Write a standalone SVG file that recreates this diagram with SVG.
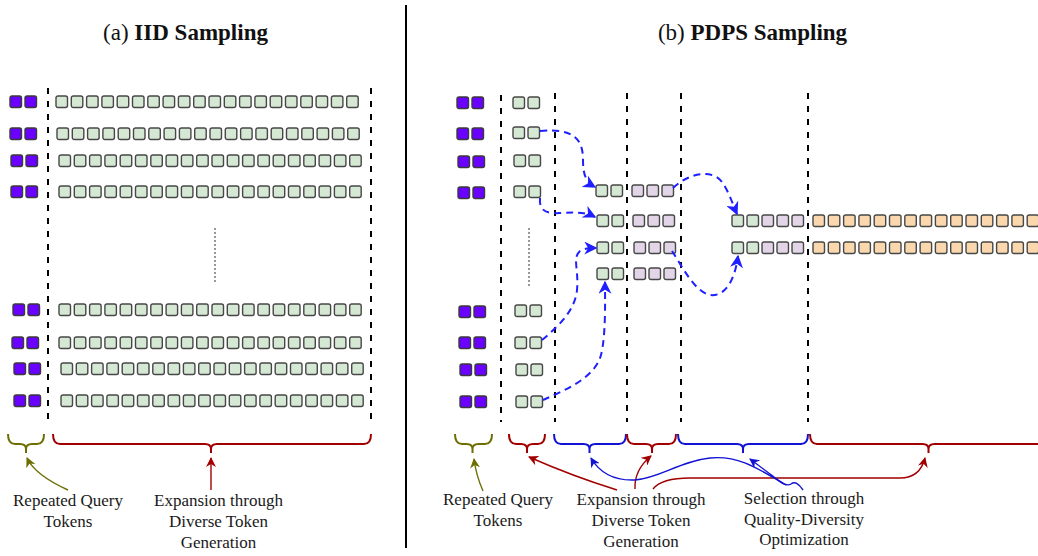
<svg xmlns="http://www.w3.org/2000/svg" xmlns:xlink="http://www.w3.org/1999/xlink" width="1038" height="556" viewBox="0 0 1038 556">
<style>
.tg{fill:#d5e8d4;stroke:#474747;stroke-width:1.4}
.tp{fill:#6a00ff;stroke:#3a3a3a;stroke-width:1.4}
.tl{fill:#e1d5e7;stroke:#474747;stroke-width:1.4}
.to{fill:#fad7ac;stroke:#474747;stroke-width:1.4}
.dash{stroke:#000;stroke-width:2;stroke-dasharray:6 7;fill:none}
.dot{stroke:#333;stroke-width:1;stroke-dasharray:2 2;fill:none}
.sep{stroke:#000;stroke-width:2;fill:none}
.title{font-family:"Liberation Serif",serif;font-size:23px;fill:#111;text-anchor:middle}
.lbl{font-family:"Liberation Serif",serif;font-size:17px;fill:#1a1a1a;text-anchor:middle}
.bo{stroke:#6d6d00;stroke-width:2;fill:none}
.br{stroke:#a20000;stroke-width:2;fill:none}
.bb{stroke:#1212d4;stroke-width:2;fill:none}
.flow{stroke:#1f1fff;stroke-width:2;stroke-dasharray:7 5;fill:none;marker-end:url(#mb)}
.ao{stroke:#6d6d00;stroke-width:1.4;fill:none;marker-end:url(#mo)}
.ar{stroke:#a20000;stroke-width:1.4;fill:none;marker-end:url(#mr)}
.ab{stroke:#1212d4;stroke-width:1.4;fill:none}
</style>
<defs>
<marker id="mb" viewBox="0 0 10 10" refX="9" refY="5" markerWidth="13" markerHeight="13" markerUnits="userSpaceOnUse" orient="auto"><path d="M0,0 L10,5 L0,10 L3,5 z" fill="#1f1fff"/></marker>
<marker id="mo" viewBox="0 0 10 10" refX="9" refY="5" markerWidth="10" markerHeight="10" markerUnits="userSpaceOnUse" orient="auto"><path d="M0,0 L10,5 L0,10 L3,5 z" fill="#6d6d00"/></marker>
<marker id="mr" viewBox="0 0 10 10" refX="9" refY="5" markerWidth="10" markerHeight="10" markerUnits="userSpaceOnUse" orient="auto"><path d="M0,0 L10,5 L0,10 L3,5 z" fill="#a20000"/></marker>
<marker id="mbl" viewBox="0 0 10 10" refX="9" refY="5" markerWidth="10" markerHeight="10" markerUnits="userSpaceOnUse" orient="auto"><path d="M0,0 L10,5 L0,10 L3,5 z" fill="#1212d4"/></marker>
<rect id="tg" class="tg" width="11.5" height="11.5" rx="2"/>
<rect id="tp" class="tp" width="11.5" height="11.5" rx="2"/>
<rect id="tl" class="tl" width="11.5" height="11.5" rx="2"/>
<rect id="to" class="to" width="11.5" height="11.5" rx="2"/>
<g id="q2"><use href="#tp"/><use href="#tp" x="15"/></g>
<g id="g2"><use href="#tg"/><use href="#tg" x="15"/></g>
<g id="l3"><use href="#tl"/><use href="#tl" x="15"/><use href="#tl" x="30"/></g>
<g id="row20">
<use href="#tg" x="0"/><use href="#tg" x="15.3"/><use href="#tg" x="30.6"/><use href="#tg" x="45.9"/><use href="#tg" x="61.2"/><use href="#tg" x="76.5"/><use href="#tg" x="91.8"/><use href="#tg" x="107.1"/><use href="#tg" x="122.4"/><use href="#tg" x="137.7"/><use href="#tg" x="153"/><use href="#tg" x="168.3"/><use href="#tg" x="183.6"/><use href="#tg" x="198.9"/><use href="#tg" x="214.2"/><use href="#tg" x="229.5"/><use href="#tg" x="244.8"/><use href="#tg" x="260.1"/><use href="#tg" x="275.4"/><use href="#tg" x="290.7"/>
</g>
<g id="orow">
<use href="#to" x="0"/><use href="#to" x="15.3"/><use href="#to" x="30.6"/><use href="#to" x="45.9"/><use href="#to" x="61.2"/><use href="#to" x="76.5"/><use href="#to" x="91.8"/><use href="#to" x="107.1"/><use href="#to" x="122.4"/><use href="#to" x="137.7"/><use href="#to" x="153"/><use href="#to" x="168.3"/><use href="#to" x="183.6"/><use href="#to" x="198.9"/><use href="#to" x="214.2"/>
</g>
</defs>
<rect width="1038" height="556" fill="#fff"/>

<g id="titles">
<text class="title" x="185.5" y="40">(a) <tspan font-weight="bold">IID Sampling</tspan></text>
<text class="title" x="752.5" y="40">(b) <tspan font-weight="bold">PDPS Sampling</tspan></text>
</g>

<g id="separators">
<line class="sep" x1="406" y1="5" x2="406" y2="548"/>
<line class="dash" x1="48" y1="88" x2="48" y2="420"/>
<line class="dash" x1="371" y1="88" x2="371" y2="420"/>
<line class="dot" x1="215" y1="228" x2="215" y2="284"/>
<line class="dash" x1="501" y1="95" x2="501" y2="422"/>
<line class="dash" x1="555" y1="93" x2="555" y2="422"/>
<line class="dash" x1="627" y1="93" x2="627" y2="422"/>
<line class="dash" x1="681" y1="93" x2="681" y2="422"/>
<line class="dash" x1="808" y1="93" x2="808" y2="422"/>
<line class="dot" x1="529" y1="228" x2="529" y2="286"/>
</g>

<g id="iid-row1"><use href="#q2" x="10" y="96"/><use href="#row20" x="56" y="96"/></g>
<g id="iid-row2"><use href="#q2" x="10" y="128"/><use href="#row20" x="57" y="128"/></g>
<g id="iid-row3"><use href="#q2" x="11" y="155"/><use href="#row20" x="59" y="155"/></g>
<g id="iid-row4"><use href="#q2" x="11" y="186"/><use href="#row20" x="59" y="186"/></g>
<g id="iid-row5"><use href="#q2" x="13" y="304"/><use href="#row20" x="59" y="304"/></g>
<g id="iid-row6"><use href="#q2" x="12" y="337"/><use href="#row20" x="59" y="337"/></g>
<g id="iid-row7"><use href="#q2" x="14" y="363"/><use href="#row20" x="61" y="363"/></g>
<g id="iid-row8"><use href="#q2" x="14" y="395"/><use href="#row20" x="61" y="395"/></g>

<g id="pdps-q1"><use href="#q2" x="457" y="97"/><use href="#g2" x="513" y="97"/></g>
<g id="pdps-q2"><use href="#q2" x="457" y="128"/><use href="#g2" x="513" y="127"/></g>
<g id="pdps-q3"><use href="#q2" x="458" y="156"/><use href="#g2" x="514" y="155"/></g>
<g id="pdps-q4"><use href="#q2" x="458" y="187"/><use href="#g2" x="514" y="186"/></g>
<g id="pdps-q5"><use href="#q2" x="459" y="306"/><use href="#g2" x="515" y="305"/></g>
<g id="pdps-q6"><use href="#q2" x="459" y="337"/><use href="#g2" x="515" y="337"/></g>
<g id="pdps-q7"><use href="#q2" x="460" y="364"/><use href="#g2" x="516" y="364"/></g>
<g id="pdps-q8"><use href="#q2" x="460" y="396"/><use href="#g2" x="516" y="396"/></g>

<g id="pdps-e1"><use href="#g2" x="596" y="185"/><use href="#l3" x="632" y="185"/></g>
<g id="pdps-e2"><use href="#g2" x="597" y="215"/><use href="#l3" x="633" y="215"/></g>
<g id="pdps-e3"><use href="#g2" x="597" y="242"/><use href="#l3" x="634" y="242"/></g>
<g id="pdps-e4"><use href="#g2" x="597" y="268"/><use href="#l3" x="634" y="268"/></g>

<g id="pdps-s1"><use href="#g2" x="732" y="215"/><use href="#l3" x="762" y="215"/><use href="#orow" x="813" y="215"/></g>
<g id="pdps-s2"><use href="#g2" x="732" y="242"/><use href="#l3" x="762" y="242"/><use href="#orow" x="813" y="242"/></g>

<g id="braces">
<path class="bo" d="M8,434 Q8,444 15,444 L20,444 Q26,444 26,449 L26,453 M26,449 Q26,444 32,444 L37,444 Q44,444 44,434"/>
<path class="br" d="M53,434 Q53,444 60,444 L205,444 Q211,444 211,449 L211,453 M211,449 Q211,444 217,444 L364,444 Q371,444 371,434"/>
<path class="bo" d="M455,434 Q455,444 462,444 L466.5,444 Q472.5,444 472.5,449 L472.5,453 M472.5,449 Q472.5,444 478.5,444 L485,444 Q492,444 492,434"/>
<path class="br" d="M509,434 Q509,444 516,444 L521,444 Q527,444 527,449 L527,453 M527,449 Q527,444 533,444 L538,444 Q545,444 545,434"/>
<path class="bb" d="M554,434 Q554,444 561,444 L583.5,444 Q589.5,444 589.5,449 L589.5,453 M589.5,449 Q589.5,444 595.5,444 L619,444 Q626,444 626,434"/>
<path class="br" d="M627,434 Q627,444 634,444 L646,444 Q652,444 652,449 L652,453 M652,449 Q652,444 658,444 L669,444 Q676,444 676,434"/>
<path class="bb" d="M678,434 Q678,444 685,444 L737,444 Q743,444 743,449 L743,453 M743,449 Q743,444 749,444 L801,444 Q808,444 808,434"/>
<path class="br" d="M810,434 Q810,444 817,444 L922.5,444 Q928.5,444 928.5,449 L928.5,453 M928.5,449 Q928.5,444 934.5,444 L1045,444"/>
</g>

<g id="connectors">
<path class="flow" d="M540,131 C575,128 583,140 583,160 C583,175 586,182 595,187"/>
<path class="flow" d="M540,198 C539,210 545,214 560,213 C575,212 585,212 595,217"/>
<path class="flow" d="M542,340 C560,325 575,310 577,290 C579,270 572,258 580,251 C585,248 590,248 596,248"/>
<path class="flow" d="M543,400 C565,390 595,378 601,355 C606,335 605,300 605,282"/>
<path class="flow" d="M673,188 C690,172 715,168 724,185 C730,195 733,205 737,214"/>
<path class="flow" d="M672,251 C683,268 695,292 710,295 C725,297 735,280 738,256"/>

<path class="ao" d="M68,490 Q35,475 27,458"/>
<path class="ar" d="M211,490 L211,458"/>
<path class="ao" d="M483,491 Q476,475 474,459"/>
<path class="ar" d="M617,490 Q572,476 529,457"/>
<path class="ar" d="M635,489 Q634,470 651,456"/>
<path class="ar" d="M653,489 C660,480 675,478 690,478 L900,478 C915,478 922,470 925,458"/>
<path class="ab" d="M803,490 C799,484 795,481 791,484 C786,487 780,482 770,474 L750,459" marker-end="url(#mbl)"/>
<path class="ab" d="M786,485 C760,470 740,455 710,458 C680,461 660,478 635,480 C610,481 598,470 591,458" marker-end="url(#mbl)"/>
</g>

<g id="labels">
<text class="lbl" x="68" y="506">Repeated Query</text>
<text class="lbl" x="68" y="527">Tokens</text>
<text class="lbl" x="218.5" y="506">Expansion through</text>
<text class="lbl" x="218.5" y="527">Diverse Token</text>
<text class="lbl" x="218.5" y="548">Generation</text>
<text class="lbl" x="498" y="505">Repeated Query</text>
<text class="lbl" x="498" y="526">Tokens</text>
<text class="lbl" x="641" y="505">Expansion through</text>
<text class="lbl" x="641" y="526">Diverse Token</text>
<text class="lbl" x="641" y="547">Generation</text>
<text class="lbl" x="804" y="504">Selection through</text>
<text class="lbl" x="804" y="525">Quality-Diversity</text>
<text class="lbl" x="804" y="545">Optimization</text>
</g>
</svg>
